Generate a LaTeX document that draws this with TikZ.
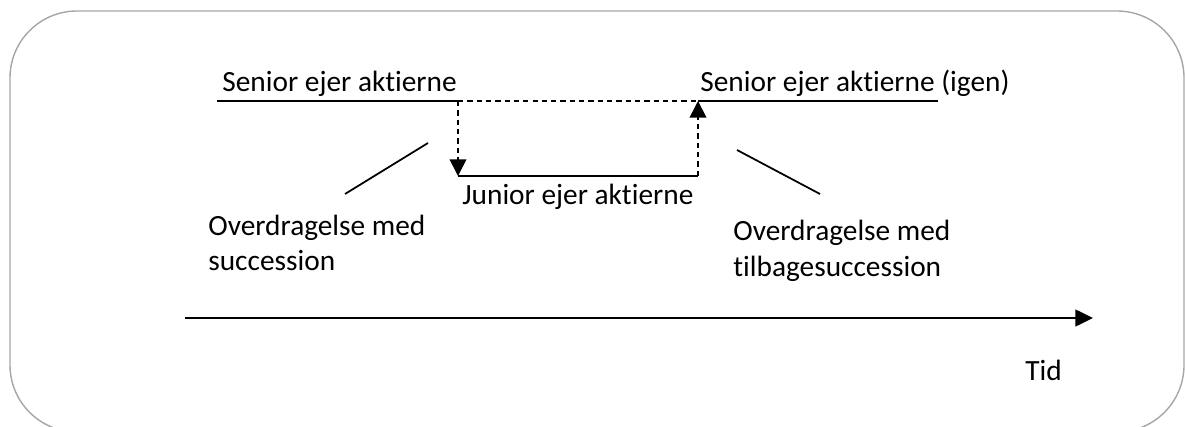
\documentclass[tikz,border=0pt]{standalone}
\usepackage{fontspec}
\setmainfont{Carlito}[Ligatures=NoCommon]
\usetikzlibrary{arrows.meta, positioning}

\begin{document}
\begin{tikzpicture}[x=0.02cm, y=0.02cm,
    lbl/.style={inner sep=0pt, anchor=base west, align=left,
        font=\fontsize{16.7}{20.2}\selectfont},
    owner/.style={line width=1pt},
    handover/.style={line width=1pt, dash pattern=on 3pt off 2.3pt,
        -{Triangle[length=9.5pt, width=9.5pt]}},
    pointer/.style={line width=1pt}]
    \useasboundingbox (0,0) rectangle (1185,426);
    % Frame
    \draw[line width=0.8pt, gray!70, rounded corners=1.34cm] (10,-6) rectangle (1184,415);

    % Owners over time
    \coordinate (s1) at (217,325);
    \coordinate (out) at (458,325);
    \coordinate (jl) at (458,250);
    \coordinate (jr) at (698,250);
    \coordinate (back) at (698,325);
    \coordinate (s2) at (938,325);
    \draw[owner] (s1) -- (out);
    \draw[owner, dash pattern=on 3pt off 2.3pt] (out) -- (back);
    \draw[owner] (back) -- (s2);
    \draw[owner] (jl) -- (jr);
    \draw[handover] (out) -- (jl);
    \draw[handover] (jr) -- (back);

    \node[lbl] (senior) at (222,334) {Senior ejer aktierne};
    \node[lbl] (senior2) at (700,334) {Senior ejer aktierne (igen)};
    \node[lbl] (junior) at (462,221) {Junior ejer aktierne};

    % Transfers
    \node[lbl] (transfer) at (208,155) {Overdragelse med\\succession};
    \node[lbl] (retransfer) at (733,150) {Overdragelse med\\tilbagesuccession};
    \coordinate (p1a) at (428,283);
    \coordinate (p1b) at (345,232);
    \coordinate (p2a) at (737,276);
    \coordinate (p2b) at (820,232);
    \draw[pointer] (p1a) -- (p1b);
    \draw[pointer] (p2a) -- (p2b);

    % Time axis
    \coordinate (t0) at (185,108);
    \coordinate (t1) at (1093,108);
    \draw[line width=1.2pt, -{Triangle[length=10pt, width=9.5pt]}] (t0) -- (t1);
    \node[lbl] (time) at (1025,46) {Tid};
\end{tikzpicture}
\end{document}
